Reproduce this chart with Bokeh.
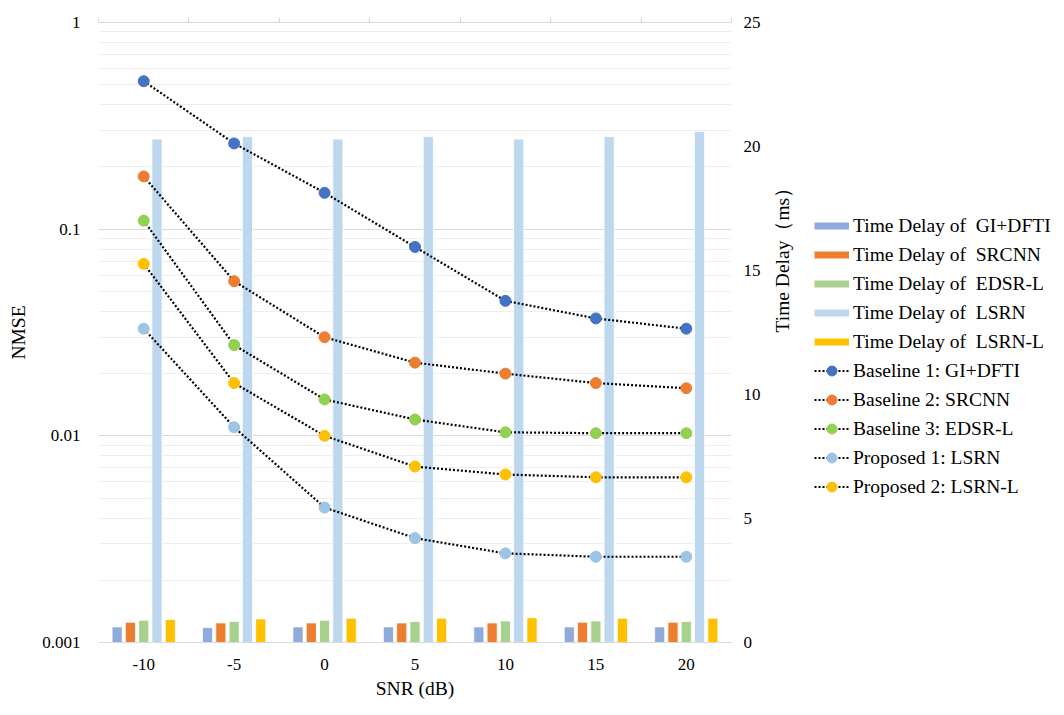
import math
from bokeh.plotting import figure
from bokeh.layouts import row
from bokeh.models import (Range1d, LinearAxis, LinearScale, FixedTicker, Legend,
                          LegendItem, CustomJSTickFormatter)
from bokeh.embed import file_html
from bokeh.resources import INLINE

# ---------------- data ----------------
snr = [-10, -5, 0, 5, 10, 15, 20]

nmse_gi_dfti = [0.52, 0.26, 0.15, 0.082, 0.045, 0.037, 0.033]
nmse_srcnn = [0.18, 0.056, 0.030, 0.0226, 0.020, 0.018, 0.017]
nmse_edsr_l = [0.11, 0.0275, 0.015, 0.012, 0.0104, 0.0103, 0.0103]
nmse_lsrn = [0.033, 0.011, 0.0045, 0.0032, 0.0027, 0.0026, 0.0026]
nmse_lsrn_l = [0.068, 0.018, 0.010, 0.0071, 0.0065, 0.0063, 0.0063]

delay_gi_dfti = [0.63, 0.60, 0.63, 0.63, 0.63, 0.63, 0.63]
delay_srcnn = [0.82, 0.79, 0.79, 0.79, 0.79, 0.82, 0.82]
delay_edsr_l = [0.90, 0.85, 0.90, 0.85, 0.87, 0.87, 0.85]
delay_lsrn = [20.3, 20.4, 20.3, 20.4, 20.3, 20.4, 20.6]
delay_lsrn_l = [0.93, 0.95, 0.98, 0.98, 1.00, 0.98, 0.98]

bar_labels = ["Time Delay of  GI+DFTI", "Time Delay of  SRCNN", "Time Delay of  EDSR-L",
              "Time Delay of  LSRN", "Time Delay of  LSRN-L"]
line_labels = ["Baseline 1: GI+DFTI", "Baseline 2: SRCNN", "Baseline 3: EDSR-L",
               "Proposed 1: LSRN", "Proposed 2: LSRN-L"]

nmse_ticks = [0.001, 0.01, 0.1, 1]
delay_ticks = [0, 5, 10, 15, 20, 25]

# ---------------- styles ----------------
FONT = "Liberation Serif"
bar_colors = ["#8FAADC", "#ED7D31", "#A9D18E", "#BDD7EE", "#FFC000"]
marker_colors = ["#4472C4", "#ED7D31", "#92D050", "#9DC3E6", "#FFC000"]
LINE_W = 2.2
LINE_DASH = "2 2"
MARKER_SIZE = 11

H = 705
p = figure(width=814, height=H, y_axis_type="log",
           x_range=Range1d(-12.5, 22.5), y_range=Range1d(0.001, 1),
           output_backend="svg", toolbar_location=None,
           min_border_left=98, min_border_right=83,
           min_border_top=22, min_border_bottom=63)
p.outline_line_color = None
p.background_fill_color = "white"
p.extra_y_ranges = {"delay": Range1d(0, 25)}
p.extra_y_scales = {"delay": LinearScale()}

# bars (right axis)
bar_series = [delay_gi_dfti, delay_srcnn, delay_edsr_l, delay_lsrn, delay_lsrn_l]
n = len(bar_series)
step = 0.735
bw = 0.56
for i, (vals, col) in enumerate(zip(bar_series, bar_colors)):
    xs = [s + (i - (n - 1) / 2) * step for s in snr]
    p.vbar(x=xs, top=vals, bottom=0, width=bw, fill_color=col,
           line_color="white", line_width=0.8, y_range_name="delay")

# lines (left axis)
nmse_series = [nmse_gi_dfti, nmse_srcnn, nmse_edsr_l, nmse_lsrn, nmse_lsrn_l]
for vals, col in zip(nmse_series, marker_colors):
    p.line(snr, vals, line_color="black", line_width=LINE_W, line_dash=LINE_DASH)
    p.scatter(snr, vals, size=MARKER_SIZE, fill_color=col, line_color=col)

to_str = CustomJSTickFormatter(code="return tick.toString();")

# axes
xb = p.xaxis[0]
yl = p.yaxis[0]
ymaj = FixedTicker(ticks=nmse_ticks,
                   minor_ticks=[m * t for t in nmse_ticks[:-1] for m in range(2, 10)])
yl.ticker = ymaj
p.ygrid.ticker = ymaj
yl.formatter = to_str
yl.axis_label = "NMSE"
yl.axis_line_color = None
yl.major_tick_line_color = None
yl.minor_tick_line_color = None
yl.major_label_standoff = 12
yl.axis_label_standoff = 10
p.ygrid.grid_line_color = "#d9d9d9"
p.ygrid.minor_grid_line_color = "#eeeeee"
p.xgrid.visible = False

xb.ticker = FixedTicker(ticks=snr)
xb.formatter = CustomJSTickFormatter(code="return tick.toString();")
xb.axis_label = "SNR (dB)"
xb.axis_line_color = "#d9d9d9"
xb.major_tick_line_color = None
xb.minor_tick_line_color = None
xb.major_label_standoff = 10
xb.axis_label_standoff = 5

half = (snr[1] - snr[0]) / 2
top_axis = LinearAxis(ticker=FixedTicker(ticks=[s - half for s in snr] + [snr[-1] + half]),
                      formatter=CustomJSTickFormatter(code="return '';"),
                      axis_line_color="#d9d9d9", major_tick_line_color="#d9d9d9",
                      major_tick_out=5, major_tick_in=0, minor_tick_line_color=None,
                      major_label_standoff=0)
p.add_layout(top_axis, "above")

right_axis = LinearAxis(y_range_name="delay", ticker=FixedTicker(ticks=delay_ticks),
                        axis_label="Time Delay（ms）",
                        axis_line_color=None, major_tick_line_color=None,
                        minor_tick_line_color=None, major_label_standoff=6,
                        axis_label_standoff=19)
try:
    right_axis.axis_label_orientation = math.pi / 2
except Exception:
    pass
p.add_layout(right_axis, "right")

for ax in [xb, yl, right_axis]:
    ax.major_label_text_font = FONT
    ax.major_label_text_font_size = "17px"
    ax.major_label_text_color = "black"
    ax.axis_label_text_font = FONT
    ax.axis_label_text_font_size = "19.5px"
    ax.axis_label_text_font_style = "normal"
    ax.axis_label_text_color = "black"

# ---------------- legend panel ----------------
q = figure(width=246, height=H, x_range=Range1d(0, 1), y_range=Range1d(0, 1),
           output_backend="svg", toolbar_location=None, min_border=0)
q.axis.visible = False
q.grid.visible = False
q.outline_line_color = None

nan = float("nan")
items = []
for col, lab in zip(bar_colors, bar_labels):
    d = q.line(x=[nan], y=[nan], line_color=col, line_width=7)
    items.append(LegendItem(label=lab, renderers=[d]))
for col, lab in zip(marker_colors, line_labels):
    r1 = q.line(x=[nan], y=[nan], line_color="black", line_width=LINE_W, line_dash=LINE_DASH)
    r2 = q.scatter(x=[nan], y=[nan], size=MARKER_SIZE, fill_color=col, line_color=col)
    items.append(LegendItem(label=lab, renderers=[r1, r2]))

legend = Legend(items=items, location=(0, 143),
                glyph_width=35, glyph_height=25, label_height=25, spacing=4,
                label_standoff=4, padding=0, margin=0,
                border_line_color=None, background_fill_alpha=0,
                label_text_font=FONT, label_text_font_size="19.5px",
                label_text_color="black")
q.add_layout(legend, "center")

layout = row(p, q)
open("out.html", "w").write(file_html(layout, INLINE))
